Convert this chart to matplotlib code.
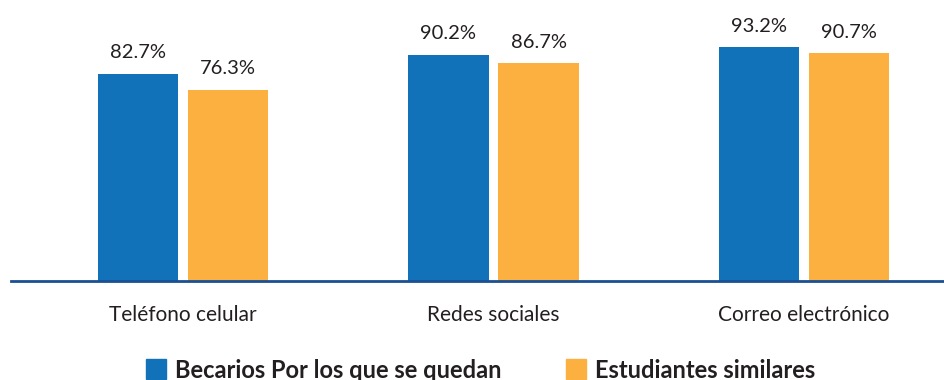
import matplotlib
matplotlib.use("Agg")
import matplotlib.pyplot as plt
from matplotlib.patches import Rectangle
import numpy as np

categories = ["Teléfono celular", "Redes sociales", "Correo electrónico"]
becarios = [82.7, 90.2, 93.2]
similares = [76.3, 86.7, 90.7]
series_names = ["Becarios Por los que se quedan", "Estudiantes similares"]
colors = ["#1172ba", "#fbb040"]
text_color = "#231f20"

plt.rcParams['font.family'] = ['Lato', 'DejaVu Sans']

W, H = 944, 380
fig = plt.figure(figsize=(W / 100, H / 100), dpi=100)
ax = fig.add_axes([11 / W, (H - 281) / H, 933 / W, 281 / H])

x = np.arange(len(categories))
bw = 0.258
off = 0.145
b1 = ax.bar(x - off, becarios, bw, color=colors[0])
b2 = ax.bar(x + off, similares, bw, color=colors[1])
for bars, vals in ((b1, becarios), (b2, similares)):
    for r, v in zip(bars, vals):
        ax.annotate(f"{v}%", (r.get_x() + r.get_width() / 2, v), xytext=(0, 11),
                    textcoords="offset points", ha="center", va="baseline",
                    fontsize=14.5, color=text_color)

ax.set_xlim(-0.554, 2.451)
ax.set_ylim(0, 112)
for s in ["top", "right", "left"]:
    ax.spines[s].set_visible(False)
ax.spines["bottom"].set_color("#1a4f93")
ax.spines["bottom"].set_linewidth(2)
ax.set_yticks([])
ax.set_xticks(x)
ax.set_xticklabels(categories, fontsize=15, color=text_color)
ax.tick_params(axis="x", length=0, pad=17)

# legend
sq = 20
for xpix, name, c in ((146, series_names[0], colors[0]), (566, series_names[1], colors[1])):
    fig.patches.append(Rectangle((xpix / W, (H - 379) / H), sq / W, sq / H,
                                 transform=fig.transFigure, color=c))
    fig.text((xpix + 29) / W, (H - 370) / H, name, fontsize=17, fontweight="bold",
             color=text_color, va="center", ha="left")

fig.savefig("out.png", dpi=100)
